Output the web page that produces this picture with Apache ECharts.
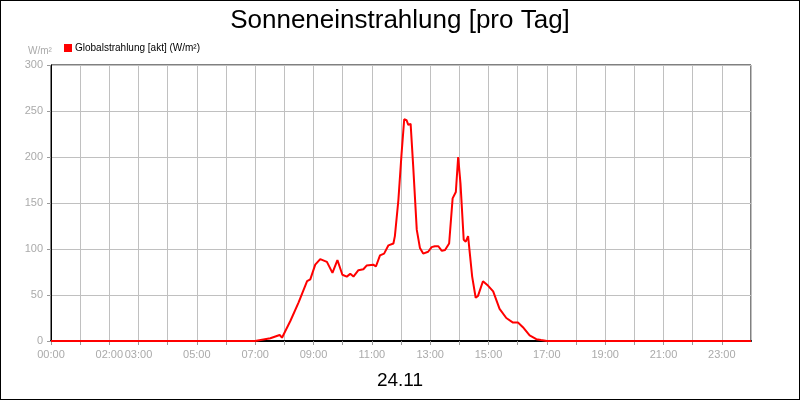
<!DOCTYPE html>
<html><head><meta charset="utf-8">
<script src="https://cdn.jsdelivr.net/npm/echarts@6/dist/echarts.min.js"></script>
<style>html,body{margin:0;padding:0;background:#fff}#c{width:800px;height:400px;box-sizing:border-box;border:1px solid #000}</style>
</head><body><div id="c"></div>
<script>
const hours = [0,7.0,7.52,7.84,7.92,8.21,8.49,8.78,8.89,9.06,9.23,9.46,9.65,9.82,9.99,10.14,10.26,10.37,10.54,10.71,10.82,11.05,11.14,11.28,11.42,11.57,11.74,11.79,11.91,12.02,12.11,12.19,12.25,12.33,12.42,12.54,12.65,12.76,12.93,13.05,13.16,13.28,13.4,13.51,13.65,13.77,13.88,13.96,14.04,14.15,14.22,14.30,14.36,14.44,14.56,14.64,14.81,14.99,15.16,15.38,15.61,15.84,16.01,16.18,16.41,16.64,16.8,17.0,24];
const values = [0,0,3,6.5,3.6,22,42,65,67,83,89,86,74,88,72,70,73,70,77,78,82,83,81,93,95,104,106,114,153,204,241,240,235,236,189,121,101,95,97,102,103,103,98,99,106,155,162,200,171,110,108,114,112,70,47,49,65,60,54,35,25,20,20,15,6,2,1,0,0];
const shownHours = [0,2,3,5,7,9,11,13,15,17,19,21,23];
const seriesName = 'Globalstrahlung [akt] (W/m²)';
const chart = echarts.init(document.getElementById('c'));
const pad = h => (h<10?'0':'')+h+':00';
chart.setOption({
  animation:false,
  title:[{text:'Sonneneinstrahlung [pro Tag]',left:'center',top:2,textStyle:{fontFamily:'Liberation Sans',fontSize:26,fontWeight:'normal',color:'#000'}},
         {text:'24.11',left:'center',top:365,textStyle:{fontFamily:'Liberation Sans',fontSize:19,fontWeight:'normal',color:'#000'}},
         {text:'W/m²',left:22,top:40,textStyle:{fontFamily:'Liberation Sans',fontSize:10,fontWeight:'normal',color:'#aaa'}}],
  legend:{left:58,top:37,itemWidth:8,itemHeight:8,icon:'rect',itemGap:4,textStyle:{fontFamily:'Liberation Sans',fontSize:10,color:'#000',padding:[0,0,0,-2]},data:[seriesName]},
  grid:{left:50,right:48,top:64,bottom:58,show:true,borderColor:'#000',borderWidth:1},
  xAxis:{type:'value',min:0,max:24,interval:1,
    axisLine:{lineStyle:{color:'#000',width:2}},axisTick:{show:true,length:4,lineStyle:{color:'#999'}},
    splitLine:{lineStyle:{color:'#c0c0c0'}},
    axisLabel:{color:'#aaa',fontFamily:'Liberation Sans',fontSize:11,showMaxLabel:false,
      formatter:v=>shownHours.includes(v)?pad(v):''}},
  yAxis:{type:'value',min:0,max:300,interval:50,
    axisLine:{show:true,lineStyle:{color:'#000'}},axisTick:{show:true,length:4,lineStyle:{color:'#999'}},
    splitLine:{lineStyle:{color:'#c0c0c0'}},
    axisLabel:{color:'#aaa',fontFamily:'Liberation Sans',fontSize:11}},
  series:[{name:seriesName,type:'line',showSymbol:false,itemStyle:{color:'#ff0000'},lineStyle:{color:'#ff0000',width:2},
    data:hours.map((h,i)=>[h,values[i]])}]
});
</script></body></html>
